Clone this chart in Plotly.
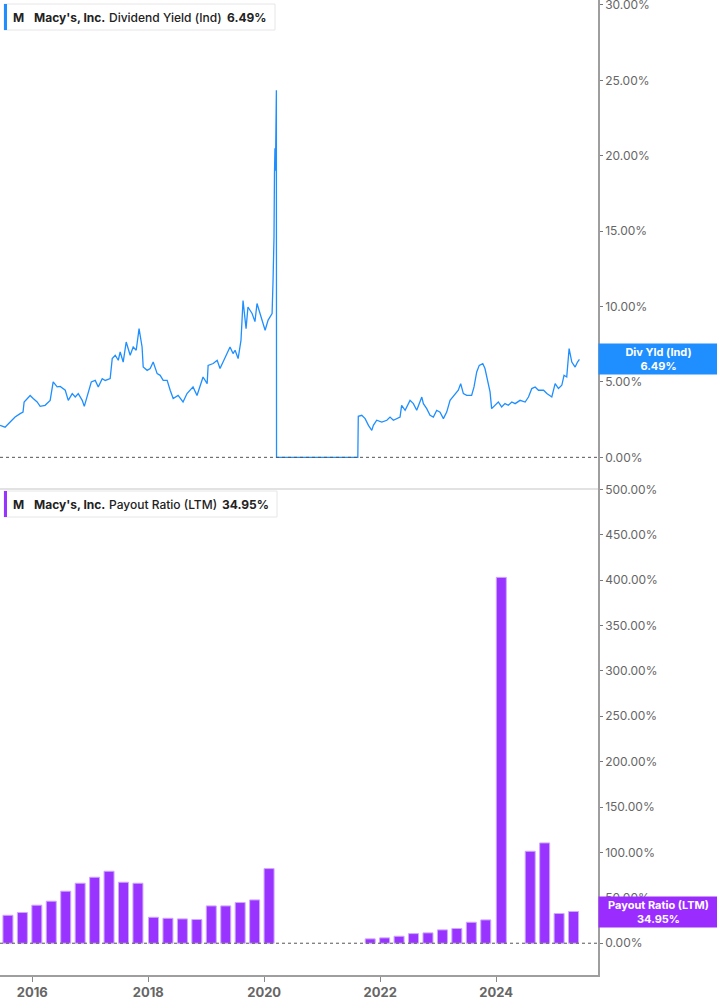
import plotly.graph_objects as go
from plotly.subplots import make_subplots

# 股息率 (Ind) - 读图估计
yld_dates = [
    "2015-06-12", "2015-07-14", "2015-08-15", "2015-09-15", "2015-10-17", "2015-11-04",
    "2015-11-11", "2015-12-19", "2016-01-07", "2016-02-01", "2016-02-20", "2016-03-22",
    "2016-04-23", "2016-05-12", "2016-06-06", "2016-06-25", "2016-07-27", "2016-08-15",
    "2016-09-09", "2016-09-28", "2016-10-17", "2016-11-11", "2016-11-24", "2016-12-13",
    "2017-01-07", "2017-02-01", "2017-02-20", "2017-03-17", "2017-04-05", "2017-05-06",
    "2017-05-19", "2017-06-07", "2017-06-26", "2017-07-08", "2017-07-27", "2017-08-15",
    "2017-09-09", "2017-09-28", "2017-10-17", "2017-11-04", "2017-11-23", "2017-11-30",
    "2017-12-25", "2018-01-13", "2018-02-01", "2018-02-26", "2018-03-17", "2018-04-05",
    "2018-04-30", "2018-05-19", "2018-06-07", "2018-07-08", "2018-08-08", "2018-09-02",
    "2018-10-10", "2018-11-04", "2018-11-23", "2018-12-12", "2019-01-07", "2019-01-13",
    "2019-02-14", "2019-03-11", "2019-03-29", "2019-04-17", "2019-05-12", "2019-05-31",
    "2019-06-19", "2019-07-02", "2019-07-21", "2019-08-08", "2019-08-21", "2019-09-09",
    "2019-09-21", "2019-10-17", "2019-11-04", "2019-11-17", "2019-12-06", "2020-01-07",
    "2020-01-26", "2020-02-20", "2020-02-26", "2020-03-03", "2020-03-06", "2020-03-09",
    "2020-03-12", "2020-03-16", "2020-03-18", "2020-03-19", "2021-08-13", "2021-08-16",
    "2021-09-07", "2021-09-28", "2021-10-19", "2021-11-09", "2021-11-19", "2021-12-10",
    "2022-01-11", "2022-02-12", "2022-03-04", "2022-03-25", "2022-04-15", "2022-05-06",
    "2022-05-16", "2022-06-07", "2022-07-08", "2022-07-29", "2022-08-19", "2022-09-20",
    "2022-09-30", "2022-10-21", "2022-11-11", "2022-12-02", "2022-12-23", "2023-01-13",
    "2023-02-03", "2023-02-24", "2023-03-17", "2023-04-17", "2023-05-08", "2023-05-23",
    "2023-06-09", "2023-06-30", "2023-07-31", "2023-08-15", "2023-09-01", "2023-09-17",
    "2023-10-09", "2023-10-23", "2023-11-07", "2023-11-24", "2023-12-04", "2023-12-26",
    "2024-01-15", "2024-02-05", "2024-02-26", "2024-03-18", "2024-04-09", "2024-04-30",
    "2024-05-31", "2024-07-02", "2024-07-23", "2024-08-13", "2024-09-03", "2024-09-24",
    "2024-10-26", "2024-11-16", "2024-12-17", "2025-01-07", "2025-01-28", "2025-02-18",
    "2025-03-04", "2025-03-21", "2025-04-05", "2025-04-22", "2025-05-13", "2025-05-28",
    "2025-06-09",
]
yld_values = [
    2.12, 2.0, 2.34, 2.67, 2.9, 3.0,
    3.67, 4.1, 3.9, 3.67, 3.38, 3.45,
    3.78, 5.0, 4.67, 4.7, 4.45, 3.78,
    4.23, 4.0, 4.23, 3.78, 3.38, 4.1,
    5.0, 5.1, 4.67, 5.22, 5.1, 5.22,
    6.55, 6.77, 6.44, 6.99, 6.32, 7.65,
    6.77, 7.32, 7.1, 8.54, 7.32, 6.0,
    5.77, 5.89, 6.32, 5.55, 5.44, 5.11,
    5.11, 4.45, 3.9, 4.11, 3.67, 4.23,
    4.67, 4.1, 4.67, 5.33, 4.89, 6.1,
    6.22, 6.44, 5.89, 6.32, 6.99, 7.32,
    6.88, 7.1, 6.55, 7.76, 10.4, 8.54,
    9.97, 9.54, 9.0, 10.2, 9.54, 8.43,
    9.1, 9.54, 11.7, 14.6, 18.8, 20.5,
    19.0, 24.35, 24.35, 0.0, 0.0, 2.72,
    2.79, 2.57, 2.12, 1.79, 2.12, 2.46,
    2.34, 2.46, 2.67, 2.46, 2.57, 2.67,
    3.45, 3.12, 3.78, 3.56, 3.12, 4.0,
    3.56, 3.23, 2.79, 2.67, 3.12, 3.0,
    2.57, 3.0, 3.78, 4.23, 4.45, 4.89,
    4.23, 4.11, 4.11, 4.67, 5.66, 6.1,
    6.22, 5.89, 5.22, 4.34, 3.23, 3.45,
    3.67, 3.34, 3.56, 3.45, 3.67, 3.56,
    3.78, 3.67, 4.0, 4.56, 4.67, 4.45,
    4.45, 4.23, 4.0, 4.89, 4.56, 4.78,
    5.44, 5.33, 7.21, 6.32, 5.99, 6.32,
    6.49,
]

# 派息率 (LTM) - 季度
bar_dates = [
    "2015-08-01", "2015-10-31", "2016-01-30", "2016-04-30", "2016-07-30", "2016-10-29",
    "2017-01-28", "2017-04-29", "2017-07-29", "2017-10-28", "2018-02-03", "2018-05-05",
    "2018-08-04", "2018-11-03", "2019-02-02", "2019-05-04", "2019-08-03", "2019-11-02",
    "2020-02-01", "2021-10-30", "2022-01-29", "2022-04-30", "2022-07-30", "2022-10-29",
    "2023-01-28", "2023-04-29", "2023-07-29", "2023-10-28", "2024-02-03", "2024-08-03",
    "2024-11-02", "2025-02-01", "2025-05-03",
]
payout_values = [
    30.8, 33.8, 41.9, 46.3, 57.3, 66.1,
    72.7, 79.3, 67.2, 66.1, 28.6, 27.5,
    26.8, 26.1, 41.1, 41.1, 44.8, 47.7,
    82.2, 4.8, 5.9, 7.7, 10.6, 11.4,
    14.7, 16.2, 23.1, 25.7, 403.0, 101.3,
    110.5, 32.7, 34.95,
]

yld_ticks = [0, 5, 10, 15, 20, 25, 30]
payout_ticks = [0, 50, 100, 150, 200, 250, 300, 350, 400, 450, 500]

BLUE = "#1f8fff"
PURPLE = "#9933ff"
FONT = "Inter, Roboto, sans-serif"
W, H = 717, 1005
PW, PH = 598, 975  # 绘图区宽高(像素)

fig = make_subplots(rows=2, cols=1, shared_xaxes=True, vertical_spacing=0)

fig.add_trace(go.Scatter(
    x=yld_dates, y=yld_values, mode="lines",
    line=dict(color=BLUE, width=1.3), showlegend=False
), row=1, col=1)

fig.add_trace(go.Bar(
    x=bar_dates, y=payout_values,
    marker=dict(color=PURPLE, line=dict(color="#cfa8ff", width=1)),
    width=63 * 86400000, showlegend=False
), row=2, col=1)

axis_font = dict(family=FONT, size=12, color="#666")

fig.update_yaxes(side="right", showgrid=False, zeroline=False, showline=True,
                 linecolor="#9e9e9e", linewidth=1.5, ticks="outside", ticklen=3,
                 tickcolor="#777", tickfont=axis_font, automargin=False,
                 ticklabeloverflow="allow")
fig.update_yaxes(range=[-2, 30.33], tickvals=yld_ticks,
                 ticktext=[f"{v:.2f}%" for v in yld_ticks], row=1, col=1)
fig.update_yaxes(range=[-35, 502], tickvals=payout_ticks,
                 ticktext=[f"{v:.2f}%" for v in payout_ticks], row=2, col=1)

fig.update_xaxes(type="date", range=["2015-06-12", "2025-10-04"], showgrid=False,
                 zeroline=False, automargin=False)
fig.update_xaxes(showline=True, linecolor="#e2e2e2", linewidth=2, showticklabels=False,
                 ticks="", row=1, col=1)
fig.update_xaxes(showline=True, linecolor="#9e9e9e", linewidth=1.5, ticks="outside",
                 ticklen=5, tickcolor="#888", tick0="2016-01-01", dtick="M24",
                 tickformat="%Y", tickfont=dict(family=FONT, size=13, color="#666",
                                                weight="bold"), row=2, col=1)

# 零值虚线
for yref in ["y", "y2"]:
    fig.add_shape(type="line", xref="x domain", yref=yref, x0=0, x1=1, y0=0, y1=0,
                  line=dict(color="#555", width=1, dash="dot"))


def px_x(p):
    return p / PW


def px_y(p):
    return 1 - p / PH


# 图例框
legends = [
    (4, 275, 4, 30, BLUE, "Dividend Yield (Ind)", "6.49%", 216),
    (4, 277, 491, 517, PURPLE, "Payout Ratio (LTM)", "34.95%", 211),
]
for x0, x1, y0, y1, col, label, val, vx in legends:
    fig.add_shape(type="rect", xref="paper", yref="paper",
                  x0=px_x(x0), x1=px_x(x1), y0=px_y(y1), y1=px_y(y0),
                  line=dict(color="#e6e6e6", width=1), fillcolor="white", layer="above")
    fig.add_shape(type="rect", xref="paper", yref="paper",
                  x0=px_x(x0), x1=px_x(x0 + 3), y0=px_y(y1), y1=px_y(y0),
                  line=dict(width=0), fillcolor=col, layer="above")
    yc = px_y((y0 + y1) / 2)
    for tx, txt, wt in [(11, "M", 700), (32, "Macy's, Inc.", 700), (107, label, 500),
                        (vx + 9, val, 700)]:
        fig.add_annotation(xref="paper", yref="paper", x=px_x(tx), y=yc, text=txt,
                           showarrow=False, xanchor="left", yanchor="middle",
                           font=dict(family=FONT, size=12, color="#222", weight=wt))

# 右侧数值标签
tags = [("y", yld_values[-1], "Div Yld (Ind)", BLUE),
        ("y2", payout_values[-1], "Payout Ratio (LTM)", "#9a2cff")]
for yref, v, name, col in tags:
    fig.add_annotation(xref="paper", yref=yref, x=1, y=v, xanchor="left",
                       yanchor="middle", showarrow=False,
                       text=f"<b>{name}<br>{v:.2f}%</b>", bgcolor=col,
                       width=115, height=26, borderpad=2, align="center",
                       font=dict(family=FONT, size=11, color="white"))

fig.update_layout(
    width=W, height=H,
    margin=dict(l=0, r=W - PW, t=0, b=H - PH),
    plot_bgcolor="white", paper_bgcolor="white",
    bargap=0.3, hovermode=False,
    font=dict(family=FONT),
)

fig.write_html("out.html", config={"displayModeBar": False},
               post_script="document.body.style.margin='0';")
